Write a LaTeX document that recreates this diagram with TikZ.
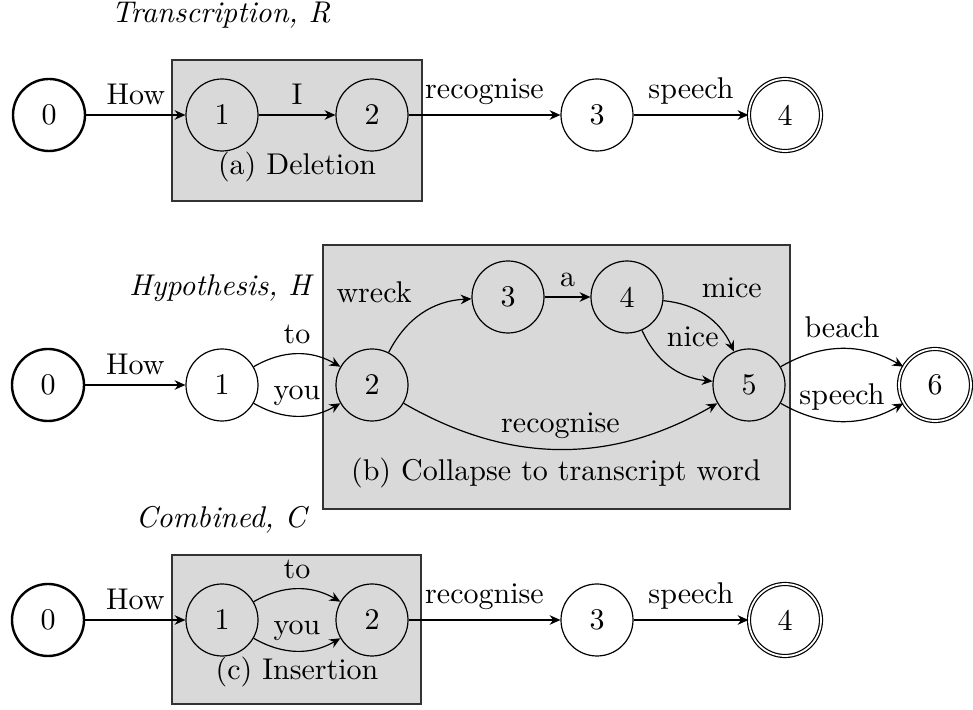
\documentclass[tikz,border=0pt]{standalone}
\usetikzlibrary{arrows.meta}
\begin{document}
\begin{tikzpicture}[
  x=0.33333pt, y=0.33333pt,
  state/.style={circle, draw, minimum size=24pt, inner sep=0pt},
  startstate/.style={state, line width=0.8pt},
  finalstate/.style={state, double, double distance=0.6pt},
  panel/.style={draw=black!80, fill=gray!30},
  trans/.style={-{Stealth[length=3.6pt,width=3.2pt]}},
  heading/.style={font=\itshape},
]
\useasboundingbox (0,0) rectangle (973,710);

% shaded panels behind the automata
\path[panel] (172,509) rectangle (422,650);
\path[panel] (323,201) rectangle (790,465);
\path[panel] (172,6) rectangle (421,155);

% transcription R
\node[heading] (titleR) at (221,695) {Transcription, R};
\node[startstate] (t0) at (49,595) {0};
\node[state] (t1) at (222,595) {1};
\node[state] (t2) at (372,595) {2};
\node[state] (t3) at (597,595) {3};
\node[finalstate] (t4) at (785,595) {4};
\node (capA) at (297,543) {(a) Deletion};
\draw[trans] (t0) -- node[above] {How} (t1);
\draw[trans] (t1) -- node[above] {I} (t2);
\draw[trans] (t2) -- node[above] {recognise} (t3);
\draw[trans] (t3) -- node[above] {speech} (t4);

% hypothesis H
\node[heading] (titleH) at (220,422) {Hypothesis, H};
\node[startstate] (h0) at (48,325) {0};
\node[state] (h1) at (222,325) {1};
\node[state] (h2) at (372,325) {2};
\node[state] (h3) at (508,413) {3};
\node[state] (h4) at (627,413) {4};
\node[state] (h5) at (749,325) {5};
\node[finalstate] (h6) at (935,325) {6};
\node (capB) at (556,237) {(b) Collapse to transcript word};
\draw[trans] (h0) -- node[above] {How} (h1);
\draw[trans] (h1) to[bend left] node[auto] {to} (h2);
\draw[trans] (h1) to[bend right] node[auto] {you} (h2);
\draw[trans] (h2) to[bend left] node[auto] {wreck} (h3);
\draw[trans] (h3) -- node[above] {a} (h4);
\draw[trans] (h4) to[bend left] node[auto, xshift=-5pt, yshift=2.5pt] {mice} (h5);
\draw[trans] (h4) to[bend right] node[auto, xshift=-4.5pt, yshift=3pt] {nice} (h5);
\draw[trans] (h2) to[bend right] node[auto] {recognise} (h5);
\draw[trans] (h5) to[bend left] node[auto] {beach} (h6);
\draw[trans] (h5) to[bend right] node[auto] {speech} (h6);

% combined C
\node[heading] (titleC) at (221,190) {Combined, C};
\node[startstate] (c0) at (48,90) {0};
\node[state] (c1) at (222,90) {1};
\node[state] (c2) at (372,90) {2};
\node[state] (c3) at (597,90) {3};
\node[finalstate] (c4) at (785,90) {4};
\node (capC) at (297,38) {(c) Insertion};
\draw[trans] (c0) -- node[above] {How} (c1);
\draw[trans] (c1) to[bend left] node[auto] {to} (c2);
\draw[trans] (c1) to[bend right] node[auto] {you} (c2);
\draw[trans] (c2) -- node[above] {recognise} (c3);
\draw[trans] (c3) -- node[above] {speech} (c4);
\end{tikzpicture}
\end{document}
